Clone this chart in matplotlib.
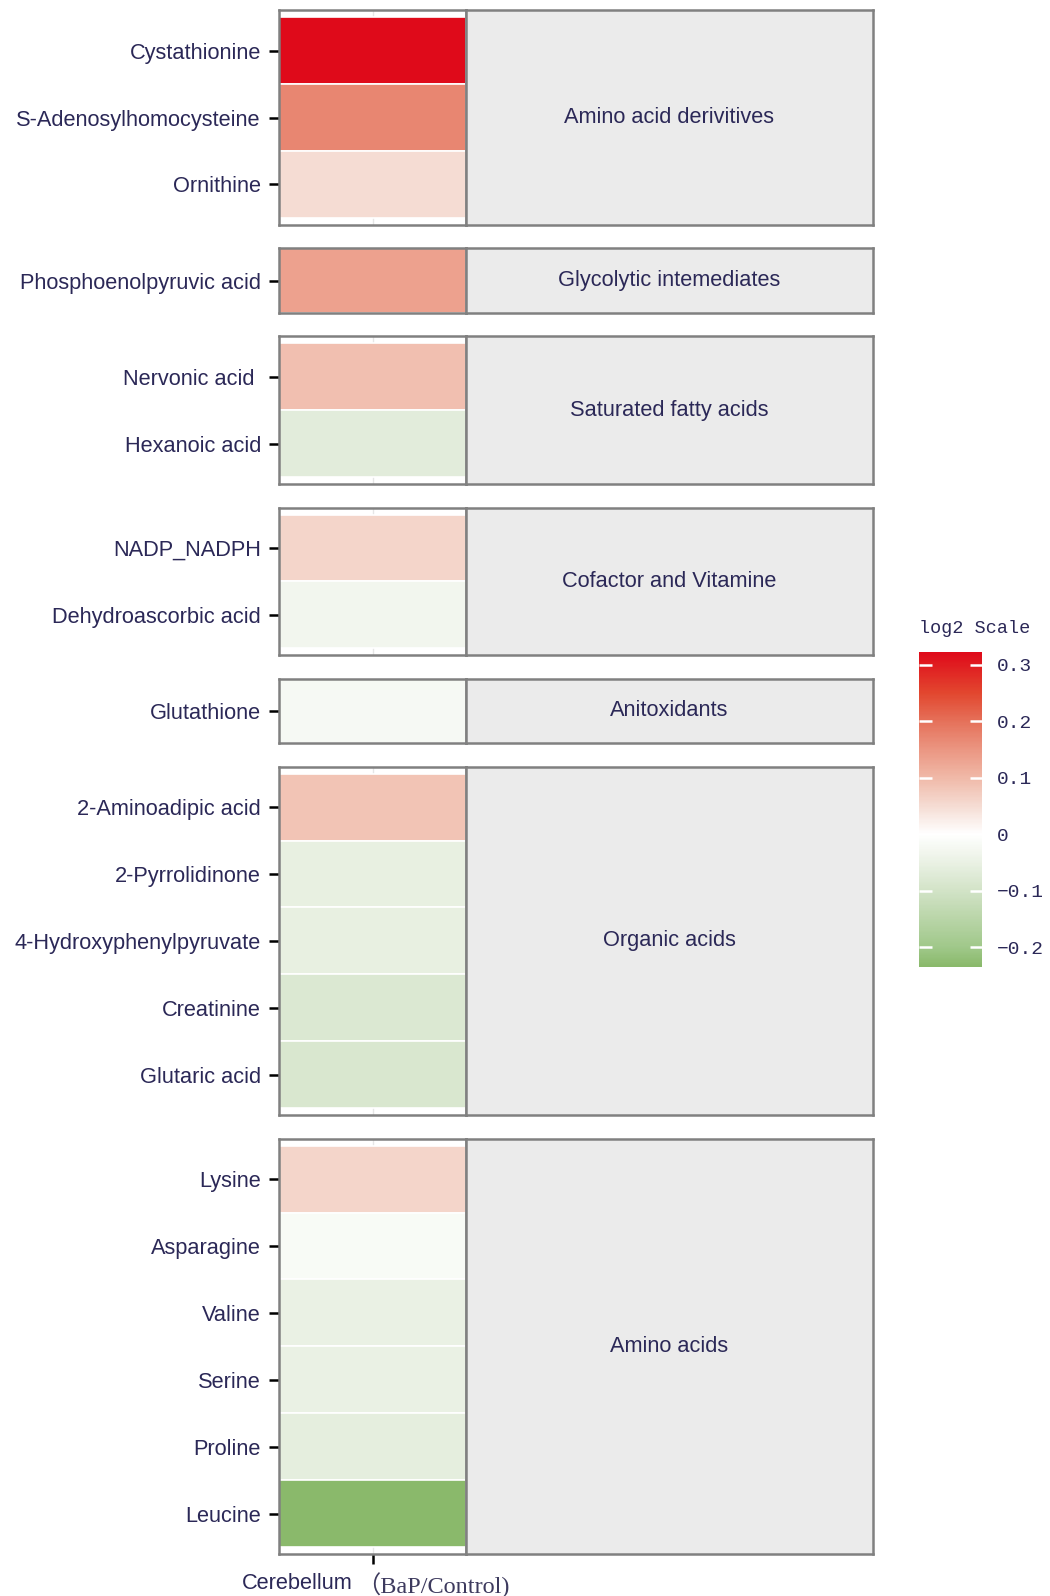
import matplotlib
matplotlib.use('Agg')
import matplotlib.pyplot as plt
from matplotlib.colors import LinearSegmentedColormap, Normalize
from matplotlib.cm import ScalarMappable

# metabolite classes (facet strips), top to bottom
groups = ['Amino acid derivitives', 'Glycolytic intemediates', 'Saturated fatty acids',
          'Cofactor and Vitamine', 'Anitoxidants', 'Organic acids', 'Amino acids']

metabolites = [
    ['Cystathionine', 'S-Adenosylhomocysteine', 'Ornithine'],
    ['Phosphoenolpyruvic acid'],
    ['Nervonic acid ', 'Hexanoic acid'],
    ['NADP_NADPH', 'Dehydroascorbic acid'],
    ['Glutathione'],
    ['2-Aminoadipic acid', '2-Pyrrolidinone', '4-Hydroxyphenylpyruvate', 'Creatinine', 'Glutaric acid'],
    ['Lysine', 'Asparagine', 'Valine', 'Serine', 'Proline', 'Leucine'],
]

# log2(BaP/Control), cerebellum
log2_ratio = [
    [0.322, 0.170, 0.050],
    [0.135],
    [0.090, -0.065],
    [0.060, -0.030],
    [-0.020],
    [0.085, -0.055, -0.055, -0.080, -0.085],
    [0.060, -0.015, -0.050, -0.050, -0.060, -0.234],
]

cbar_ticks = [-0.2, -0.1, 0, 0.1, 0.2, 0.3]
cbar_labels = ['\u22120.2', '\u22120.1', '0', '0.1', '0.2', '0.3']

plt.rcParams['font.family'] = ['Liberation Sans', 'DejaVu Sans']
navy = '#2b2857'
frame = '#808080'
fs = 15.7

vmin, vmax = -0.234, 0.322
norm = Normalize(vmin=vmin, vmax=vmax)
# green -> white (at 0) -> red
stops = [(-0.234, '#8ab96b'), (-0.2, '#a0c88a'), (-0.15, '#b9d5a8'), (-0.1, '#d2e3c7'),
         (-0.05, '#eaf1e4'), (0.0, '#ffffff'), (0.05, '#f5dcd3'), (0.1, '#f0b9a8'),
         (0.15, '#eb9682'), (0.2, '#e5715a'), (0.25, '#e2472f'), (0.322, '#df0a1a')]
cmap = LinearSegmentedColormap.from_list('gr', [(float(norm(v)), c) for v, c in stops])

W, H = 1050, 1596
fig = plt.figure(figsize=(W / 100, H / 100), dpi=100)

# panel geometry in pixels
top = 10.2
gap = 23.4
unit = 66.9
pad_px = 7.0
single_h = 64.6
x0, x1, x2 = 279, 466, 873

for gi, (name, labels, vals) in enumerate(zip(groups, metabolites, log2_ratio)):
    n = len(labels)
    if n > 1:
        h = n * unit + 2 * pad_px
        pad = pad_px / unit
    else:
        h = single_h
        pad = 0.0
    rect_y = 1 - (top + h) / H
    ax = fig.add_axes([x0 / W, rect_y, (x1 - x0) / W, h / H])
    st = fig.add_axes([x1 / W, rect_y, (x2 - x1) / W, h / H])

    ax.axvline(0.5, color='#e6e6e6', lw=1, zorder=0)
    ax.barh(range(n), 1, left=0, height=1, color=[cmap(norm(v)) for v in vals],
            edgecolor='white', linewidth=1.2, zorder=2)
    ax.set_xlim(0, 1)
    ax.set_ylim(n - 0.5 + pad, -0.5 - pad)
    ax.set_yticks(range(n))
    ax.set_yticklabels(labels)
    ax.tick_params(axis='y', length=7, width=1.8, pad=6, labelsize=fs,
                   labelcolor=navy, color='black')
    for sp in ax.spines.values():
        sp.set_color(frame)
        sp.set_linewidth(1.8)
        sp.set_zorder(5)

    st.set_facecolor('#ebebeb')
    st.set_xticks([])
    st.set_yticks([])
    for sp in st.spines.values():
        sp.set_color(frame)
        sp.set_linewidth(1.8)
    st.text(0.5, 0.5, name, ha='center', va='center', fontsize=fs,
            color=navy, transform=st.transAxes)

    if gi == len(groups) - 1:
        ax.set_xticks([0.5])
        ax.set_xticklabels([''])
        ax.tick_params(axis='x', length=7, width=1.8, color='black')
        ax.annotate('Cerebellum', xy=(0.5, 0), xycoords=('data', 'axes fraction'),
                    xytext=(-14, -14), textcoords='offset points', ha='right', va='top',
                    fontsize=fs, color=navy)
        ax.annotate('\uff08BaP/Control)', xy=(0.5, 0), xycoords=('data', 'axes fraction'),
                    xytext=(-12, -13), textcoords='offset points', ha='left', va='top',
                    fontsize=17.5, color='#3d3a5e',
                    family=['Liberation Serif', 'Noto Sans CJK SC'])
    else:
        ax.set_xticks([])

    top += h + gap

# colour bar legend
cax = fig.add_axes([918.7 / W, 1 - 966.5 / H, 63 / W, 314.3 / H])
cb = fig.colorbar(ScalarMappable(norm=norm, cmap=cmap), cax=cax)
cb.outline.set_visible(False)
cb.set_ticks(cbar_ticks)
cb.set_ticklabels(cbar_labels)
cax.tick_params(axis='y', direction='in', left=True, right=True, length=9, width=1.8,
                color='white', labelsize=14, labelcolor=navy, pad=11)
for t in cax.get_yticklabels():
    t.set_family(['Liberation Mono', 'DejaVu Sans'])
fig.text(918.7 / W, 1 - 628.8 / H, 'log2 Scale', ha='left', va='center', fontsize=13.3,
         color=navy, family=['Liberation Mono', 'DejaVu Sans'])

fig.savefig('out.png', dpi=100)
